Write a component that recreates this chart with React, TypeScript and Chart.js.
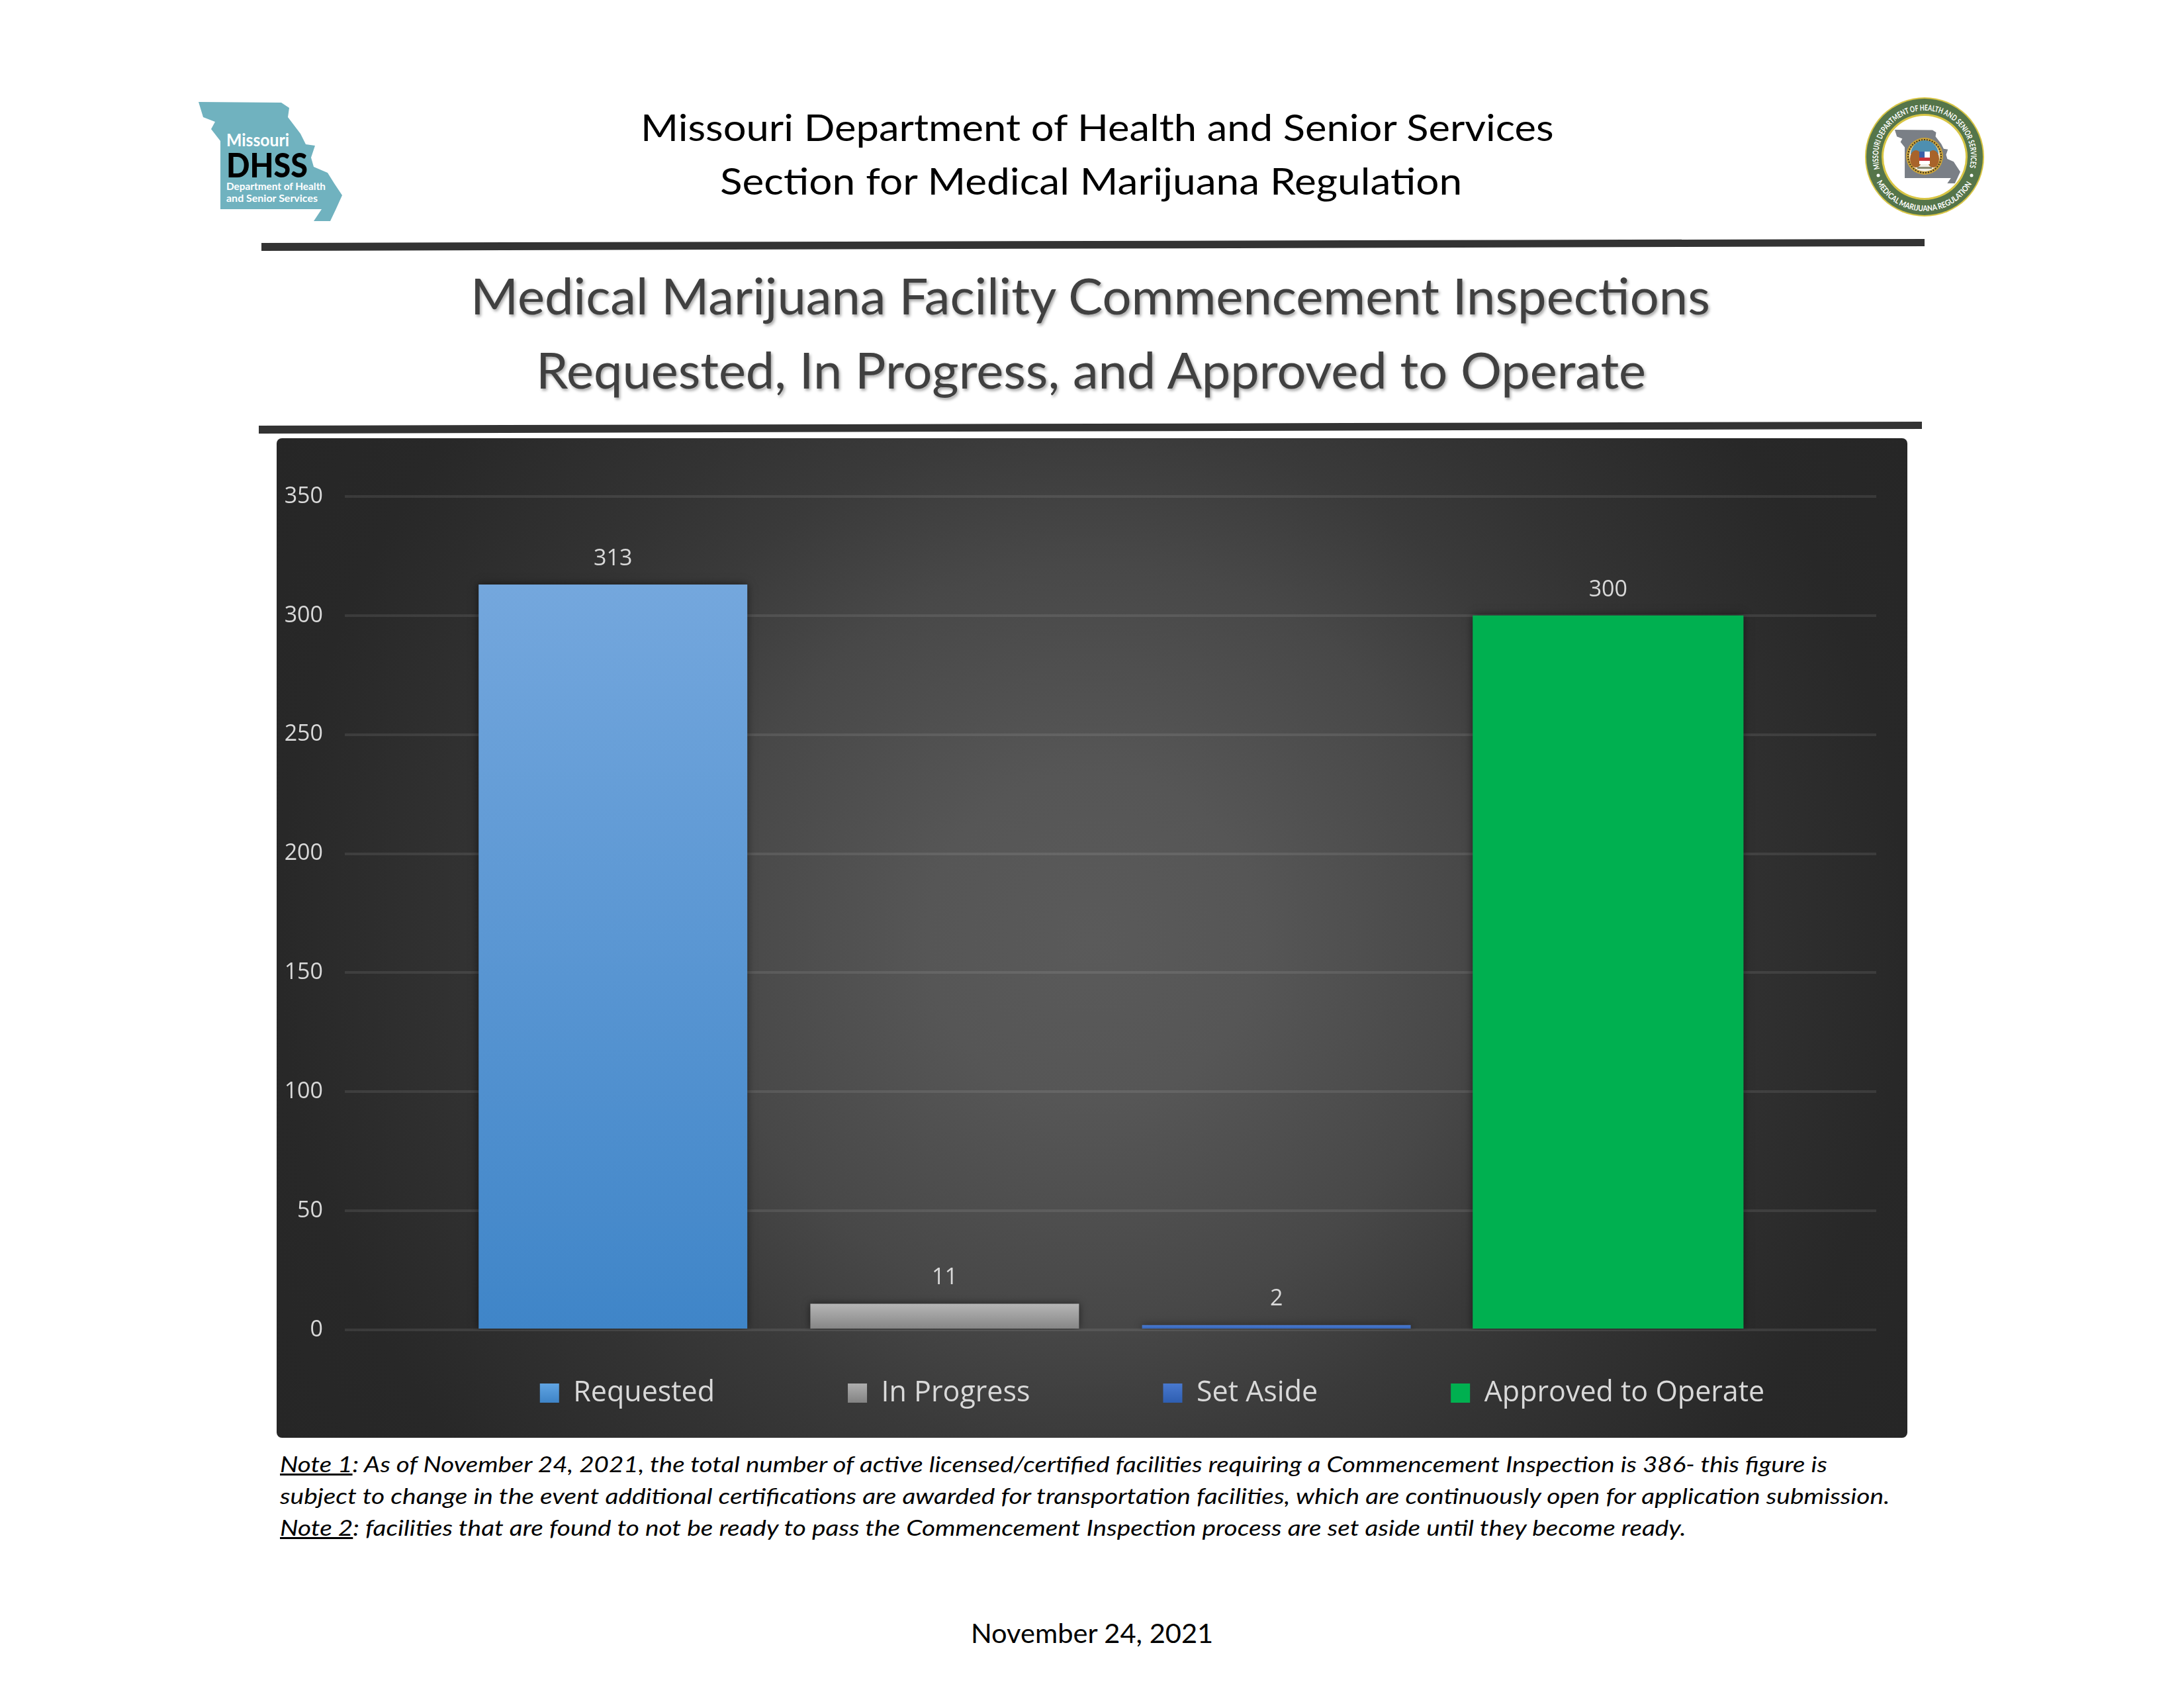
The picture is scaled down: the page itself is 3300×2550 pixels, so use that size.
import React, { useEffect, useLayoutEffect, useRef } from "react";
import { Chart, registerables } from "chart.js";

Chart.register(...registerables);

const categories = ["Inspections"];
const seriesNames = ["Requested", "In Progress", "Set Aside", "Approved to Operate"];
const requested = [313];
const inProgress = [11];
const setAside = [2];
const approved = [300];
const seriesValues = [requested, inProgress, setAside, approved];
const barWidths = [0.81, 0.81, 0.81, 0.8164];
const barGradients = [
  ["#74A7DD", "#3F85C8"],
  ["#B6B6B6", "#848484"],
  ["#4A7AD0", "#2F5FB2"],
  ["#00B050", "#00B050"],
];
const legendGradients = [
  ["#62A6E4", "#3F85C8"],
  ["#B0B0B0", "#848484"],
  ["#4A7AD0", "#2F5FB2"],
  ["#00B050", "#00B050"],
];
const SANS = '"Lato", sans-serif';
const CHART_FONT = '"Open Sans", sans-serif';
const MO_SHAPE =
  "300,154 425,155 437,163 435,177 454,202 462,218 476,220 470,238 474,252 495,261 505,277 517,295 508,315 499,334 474,334 486,316 333,316 333,213 319,195 325,184 307,177";

function FitText({ left, cy, width, size, color = "#000", italic = false, shadow, children }: any) {
  const ref = useRef<HTMLDivElement>(null);
  useLayoutEffect(() => {
    const el = ref.current;
    if (el) el.style.transform = `scaleX(${width / el.offsetWidth})`;
  }, [width]);
  return (
    <div
      ref={ref}
      style={{
        position: "absolute",
        left,
        top: cy - size * 0.6,
        lineHeight: `${size * 1.2}px`,
        fontFamily: SANS,
        fontSize: size,
        fontStyle: italic ? "italic" : "normal",
        color,
        whiteSpace: "nowrap",
        transformOrigin: "0 50%",
        textShadow: shadow,
      }}
    >
      {children}
    </div>
  );
}

function Decorations() {
  return (
    <svg width={3300} height={2550} style={{ position: "absolute", left: 0, top: 0 }}>
      <polygon points="395,367 2908,361 2908,372 395,379" fill="#333" />
      <polygon points="391,643 2904,637 2904,648 391,655" fill="#333" />
      <polygon points={MO_SHAPE} fill="#70B2BF" />
      <text x={342} y={221} fontFamily={SANS} fontSize={27} fontWeight={700} fill="#fff" textLength={95} lengthAdjust="spacingAndGlyphs">Missouri</text>
      <text x={342} y={268} fontFamily={SANS} fontSize={52} fontWeight={900} fill="#000" textLength={123} lengthAdjust="spacingAndGlyphs">DHSS</text>
      <text x={342} y={287} fontFamily={SANS} fontSize={16} fontWeight={700} fill="#fff" textLength={150} lengthAdjust="spacingAndGlyphs">Department of Health</text>
      <text x={342} y={305} fontFamily={SANS} fontSize={16} fontWeight={700} fill="#fff" textLength={138} lengthAdjust="spacingAndGlyphs">and Senior Services</text>
      <circle cx={2908} cy={237} r={90} fill="#D8C544" />
      <circle cx={2908} cy={237} r={88} fill="#55754A" />
      <circle cx={2908} cy={237} r={65} fill="#D8C544" />
      <circle cx={2908} cy={237} r={62} fill="#fff" />
      <defs>
        <path id="sealTop" d="M 2840.4 255.1 A 70 70 0 1 1 2975.6 255.1" />
        <path id="sealBottom" d="M 2835.6 275.5 A 82 82 0 0 0 2980.4 275.5" />
      </defs>
      <text fontFamily={SANS} fontSize={12} fontWeight={700} fill="#fff">
        <textPath href="#sealTop" textLength={254} lengthAdjust="spacingAndGlyphs">MISSOURI DEPARTMENT OF HEALTH AND SENIOR SERVICES</textPath>
      </text>
      <text fontFamily={SANS} fontSize={12} fontWeight={700} fill="#fff">
        <textPath href="#sealBottom" textLength={175} lengthAdjust="spacingAndGlyphs">MEDICAL MARIJUANA REGULATION</textPath>
      </text>
      <circle cx={2838} cy={265} r={2.5} fill="#fff" />
      <circle cx={2979} cy={265} r={2.5} fill="#fff" />
      <polygon points={MO_SHAPE} fill="#7A7F86" transform="translate(2863 196) scale(0.456 0.45) translate(-300 -154)" />
      <circle cx={2908} cy={236} r={28} fill="#C9A23A" />
      <circle cx={2908} cy={236} r={25} fill="none" stroke="#3A3020" strokeWidth={2} strokeDasharray="2 2" />
      <circle cx={2908} cy={236} r={23} fill="#F1EFE6" />
      <path d="M 2887 233 A 21 21 0 0 1 2929 233 Z" fill="#4E8FB0" />
      <ellipse cx={2895} cy={240} rx={9} ry={13} fill="#A8632A" />
      <ellipse cx={2921} cy={240} rx={9} ry={13} fill="#A8632A" />
      <rect x={2900} y={229} width={16} height={19} fill="#fff" />
      <rect x={2900} y={229} width={8} height={9} fill="#3A5FA8" />
      <rect x={2900} y={238} width={16} height={5} fill="#C8343A" />
      <rect x={2897} y={252} width={22} height={3} fill="#8A8A70" />
    </svg>
  );
}

export default function App() {
  const canvasRef = useRef<HTMLCanvasElement>(null);

  useEffect(() => {
    const canvas = canvasRef.current;
    if (!canvas) return;
    const gradientFor = (index: number) => (c: any) => {
      const chart = c.chart;
      const [top, bottom] = barGradients[index];
      if (!chart.chartArea) return bottom;
      const y0 = chart.scales.y.getPixelForValue(seriesValues[index][0]);
      const y1 = chart.scales.y.getPixelForValue(0);
      const g = chart.ctx.createLinearGradient(0, y0, 0, y1);
      g.addColorStop(0, top);
      g.addColorStop(1, bottom);
      return g;
    };
    const placeLegend = {
      id: "placeLegend",
      afterLayout(chart: any) {
        const legend = chart.legend;
        const padding = legend.options.labels.padding;
        legend.top = 1421 - padding;
        const shift = 1323 - (legend.left + legend.right) / 2;
        legend.left += shift;
        legend.right += shift;
      },
    };
    const barShadow = {
      id: "barShadow",
      beforeDatasetsDraw(chart: any) {
        const ctx = chart.ctx;
        ctx.save();
        ctx.shadowColor = "rgba(0,0,0,0.55)";
        ctx.shadowBlur = 12;
      },
      afterDatasetsDraw(chart: any) {
        chart.ctx.restore();
      },
    };
    const valueLabels = {
      id: "valueLabels",
      afterDatasetsDraw(chart: any) {
        const ctx = chart.ctx;
        ctx.save();
        ctx.font = `34px ${CHART_FONT}`;
        ctx.fillStyle = "#D9D9D9";
        ctx.textAlign = "center";
        ctx.textBaseline = "middle";
        chart.data.datasets.forEach((d: any, i: number) => {
          const bar = chart.getDatasetMeta(i).data[0];
          ctx.fillText(String(d.data[0]), bar.x, bar.y - 39);
        });
        ctx.restore();
      },
    };
    const chart = new Chart(canvas, {
      type: "bar",
      data: {
        labels: categories,
        datasets: seriesNames.map((label, i) => ({
          label,
          data: seriesValues[i],
          backgroundColor: gradientFor(i),
          borderWidth: 0,
          barPercentage: barWidths[i],
          categoryPercentage: 0.8664,
        })),
      },
      options: {
        animation: false,
        responsive: false,
        layout: { padding: { top: 88, right: 47, left: 0, bottom: 0 } },
        scales: {
          x: { display: false },
          y: {
            min: 0,
            max: 350,
            afterFit: (s: any) => {
              s.width = 103;
            },
            ticks: {
              stepSize: 50,
              color: "#D9D9D9",
              padding: 33,
              font: { family: CHART_FONT, size: 34 },
            },
            grid: { color: "rgba(255,255,255,0.09)", lineWidth: 4, drawTicks: false },
            border: { display: false },
          },
        },
        plugins: {
          tooltip: { enabled: false },
          title: { display: false },
          legend: {
            position: "bottom",
            maxHeight: 163,
            labels: {
              color: "#D9D9D9",
              boxWidth: 29,
              boxHeight: 29,
              padding: 201,
              font: { family: CHART_FONT, size: 43 },
              generateLabels: (ch: any) =>
                Chart.defaults.plugins.legend.labels.generateLabels(ch).map((item: any, i: number) => {
                  const g = ch.ctx.createLinearGradient(0, 1427, 0, 1456);
                  g.addColorStop(0, legendGradients[i][0]);
                  g.addColorStop(1, legendGradients[i][1]);
                  return { ...item, fillStyle: g, strokeStyle: g, lineWidth: 0 };
                }),
            },
          },
        },
      } as any,
      plugins: [placeLegend, barShadow, valueLabels],
    });
    return () => chart.destroy();
  }, []);

  return (
    <div style={{ position: "absolute", left: 0, top: 0, width: 3300, height: 2550, overflow: "hidden", background: "#fff" }}>
      <Decorations />
      <FitText left={968} cy={191} width={1380} size={57}>Missouri Department of Health and Senior Services</FitText>
      <FitText left={1088} cy={272} width={1121} size={57}>Section for Medical Marijuana Regulation</FitText>
      <FitText left={711} cy={446} width={1873} size={76} color="#404040" shadow="2px 3px 4px rgba(0,0,0,0.35)">Medical Marijuana Facility Commencement Inspections</FitText>
      <FitText left={810} cy={558} width={1677} size={76} color="#404040" shadow="2px 3px 4px rgba(0,0,0,0.35)">Requested, In Progress, and Approved to Operate</FitText>
      <div
        style={{
          position: "absolute",
          left: 418,
          top: 662,
          width: 2464,
          height: 1510,
          borderRadius: 8,
          background:
            "radial-gradient(circle at 50% 50%, #5A5A5A 0px, #565656 250px, #484848 570px, #3A3A3A 776px, #333333 924px, #282828 1230px, #262626 1450px)",
        }}
      >
        <canvas ref={canvasRef} width={2464} height={1510} style={{ display: "block" }} />
      </div>
      <FitText left={423} cy={2212} width={2338} size={33} italic>
        <span style={{ textDecoration: "underline" }}>Note 1</span>: As of November 24, 2021, the total number of active licensed/certified facilities requiring a Commencement Inspection is 386- this figure is
      </FitText>
      <FitText left={423} cy={2260} width={2432} size={33} italic>
        subject to change in the event additional certifications are awarded for transportation facilities, which are continuously open for application submission.
      </FitText>
      <FitText left={423} cy={2308} width={2125} size={33} italic>
        <span style={{ textDecoration: "underline" }}>Note 2</span>: facilities that are found to not be ready to pass the Commencement Inspection process are set aside until they become ready.
      </FitText>
      <FitText left={1467} cy={2467} width={366} size={40}>November 24, 2021</FitText>
    </div>
  );
}
